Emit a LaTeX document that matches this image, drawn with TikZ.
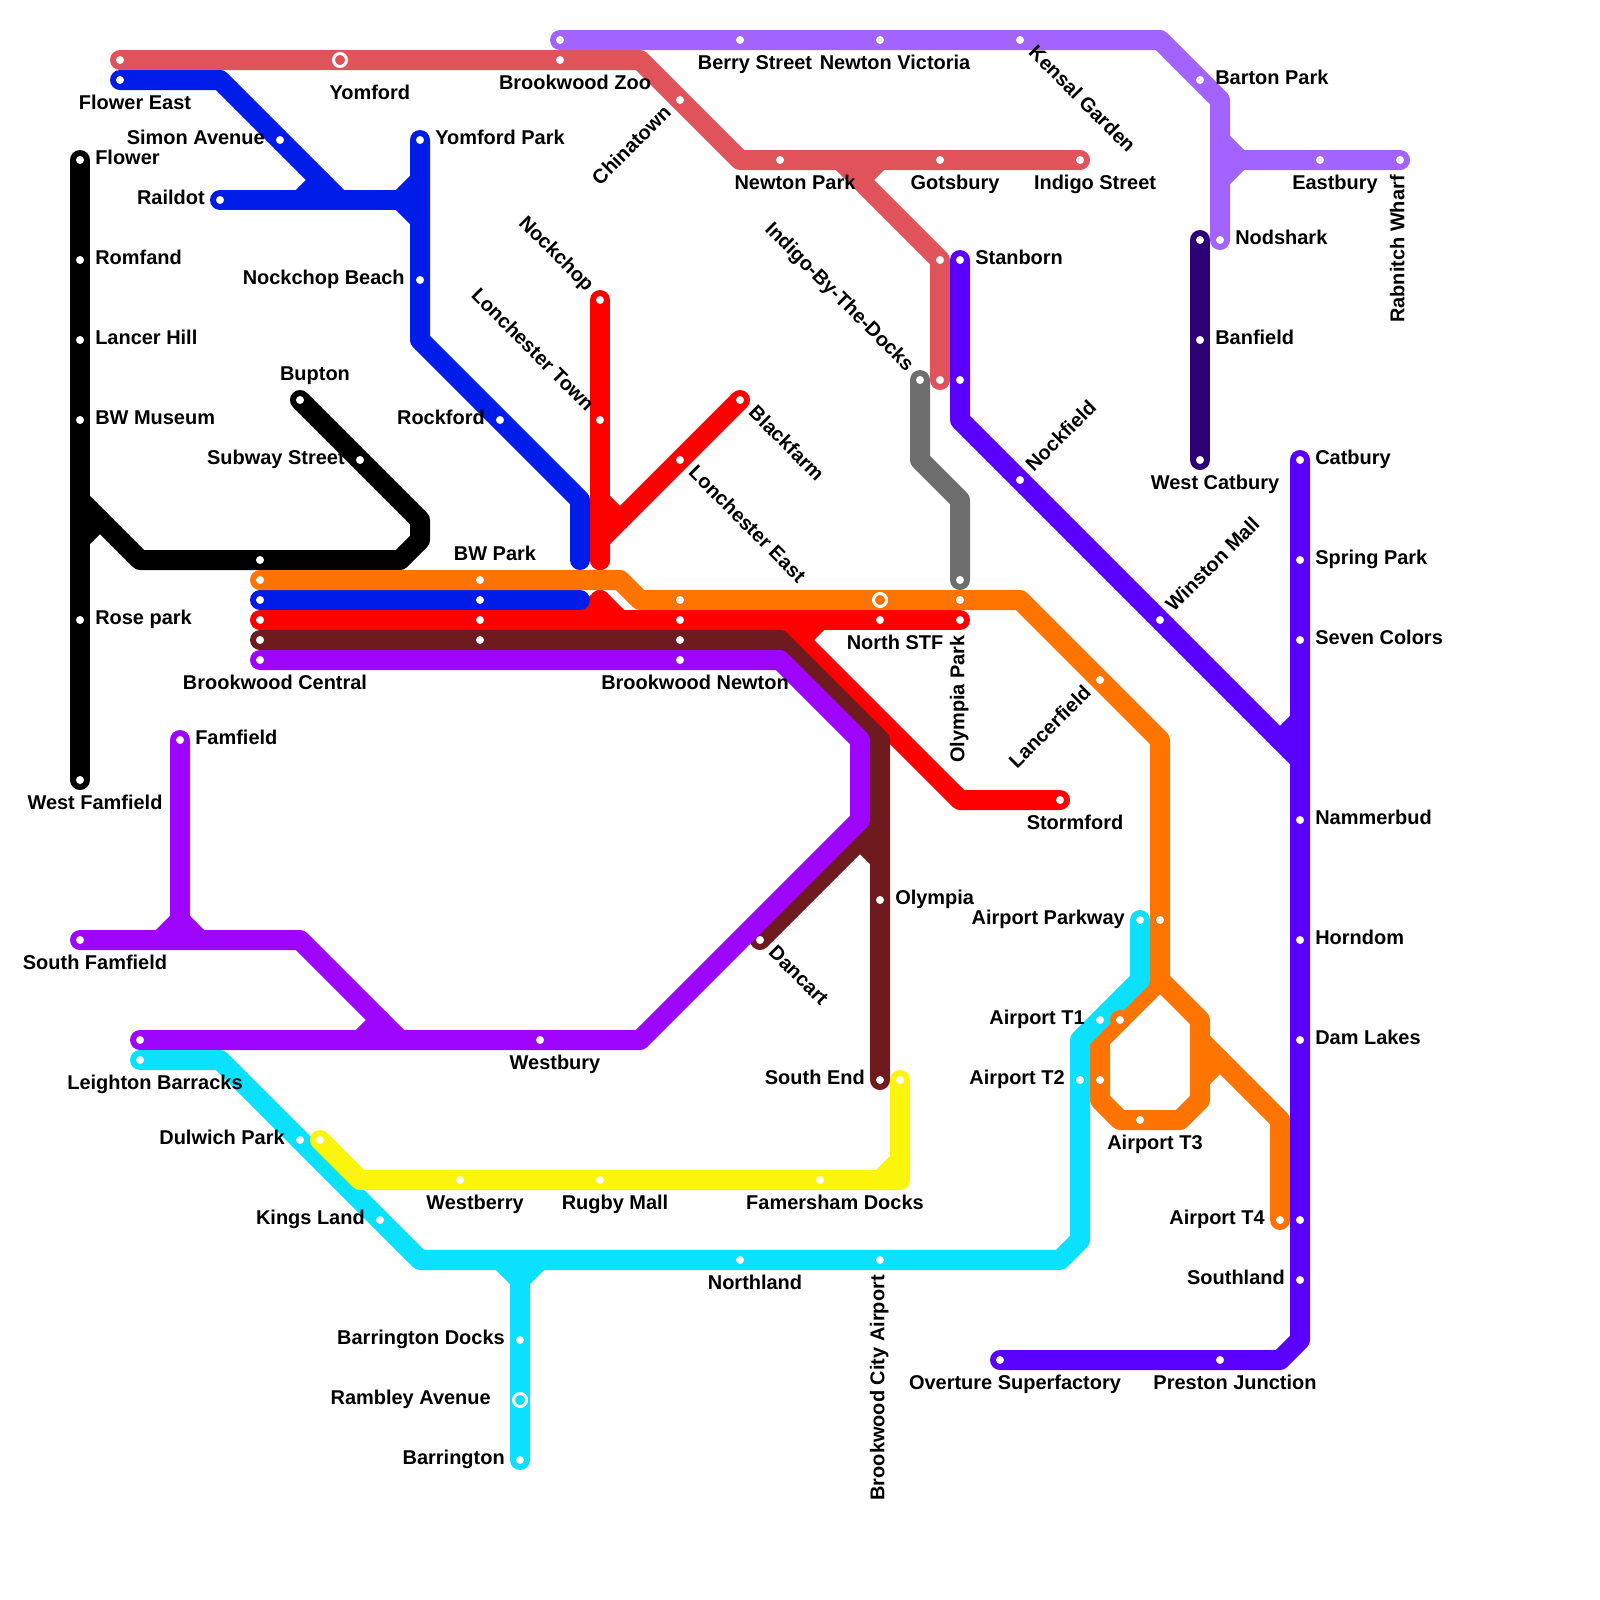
\documentclass[tikz,border=0pt]{standalone}
\usepackage{fontspec}
\setmainfont{Liberation Sans}
\usetikzlibrary{backgrounds}
\definecolor{lnblack}{HTML}{000000}
\definecolor{lnblue}{HTML}{001CE8}
\definecolor{lnred}{HTML}{FF0000}
\definecolor{lnbrown}{HTML}{6E1A1E}
\definecolor{lnpurple}{HTML}{9E05FF}
\definecolor{lnorange}{HTML}{FF7300}
\definecolor{lncyan}{HTML}{0BE0FF}
\definecolor{lnyellow}{HTML}{FBF50C}
\definecolor{lncrimson}{HTML}{E0535B}
\definecolor{lnlilac}{HTML}{A263FF}
\definecolor{lnviolet}{HTML}{5A00FF}
\definecolor{lnindigo}{HTML}{2E0078}
\definecolor{lngrey}{HTML}{6E6E6E}

\begin{document}
\begin{tikzpicture}[
    x=0.5cm, y=-0.5cm,
    stn/.style={circle, fill=white, inner sep=0pt, minimum size=0.2cm},
    ring/.style={circle, draw=white, line width=0.075cm, inner sep=0pt, minimum size=0.325cm},
    mline/.style={line width=0.5cm, line cap=round, line join=round},
    lbl/.style={inner sep=0pt, text=black, font=\fontsize{14.2}{17}\selectfont\bfseries},
    lright/.style={lbl, anchor=base west, xshift=0.375cm, yshift=-0.11cm},
    lleft/.style={lbl, anchor=base east, xshift=-0.375cm, yshift=-0.11cm},
    lbelow/.style={lbl, anchor=base, xshift=0.375cm, yshift=-0.74cm},
    labove/.style={lbl, anchor=base, xshift=0.375cm, yshift=0.485cm}
]
\useasboundingbox (0,0) rectangle (80,80);

% black line
\node[stn] (flower) at (4,8) {}; \node[lright] (flowerT) at (flower) {Flower};
\node[stn] (romfand) at (4,13) {}; \node[lright] (romfandT) at (romfand) {Romfand};
\node[stn] (lancerhill) at (4,17) {}; \node[lright] (lancerhillT) at (lancerhill) {Lancer Hill};
\node[stn] (bwmuseum) at (4,21) {}; \node[lright] (bwmuseumT) at (bwmuseum) {BW Museum};
\node[stn] (rosepark) at (4,31) {}; \node[lright] (roseparkT) at (rosepark) {Rose park};
\node[stn] (westfamfield) at (4,39) {}; \node[lbelow] (westfamfieldT) at (westfamfield) {West Famfield};
\node[stn] (bupton) at (15,20) {}; \node[labove] (buptonT) at (bupton) {Bupton};
\node[stn] (subway) at (18,23) {}; \node[lleft] (subwayT) at (subway) {Subway Street};
\node[stn] (bcK0) at (13,28) {};

% blue line
\node[stn] (flowereast) at (6,4) {}; \node[lbelow] (flowereastT) at (flowereast) {Flower East};
\node[stn] (simon) at (14,7) {}; \node[lleft] (simonT) at (simon) {Simon Avenue};
\node[stn] (raildot) at (11,10) {}; \node[lleft] (raildotT) at (raildot) {Raildot};
\node[stn] (yomfordpark) at (21,7) {}; \node[lright] (yomfordparkT) at (yomfordpark) {Yomford Park};
\node[stn] (nockbeach) at (21,14) {}; \node[lleft] (nockbeachT) at (nockbeach) {Nockchop Beach};
\node[stn] (rockford) at (25,21) {}; \node[lleft] (rockfordT) at (rockford) {Rockford};

% red line
\node[stn] (nockchop) at (30,15) {}; \node[rotate=-45, lleft] (nockchopT) at (nockchop) {Nockchop};
\node[stn] (lontown) at (30,21) {}; \node[rotate=-45, lleft] (lontownT) at (lontown) {Lonchester Town};
\node[stn] (blackfarm) at (37,20) {}; \node[rotate=-45, lright] (blackfarmT) at (blackfarm) {Blackfarm};
\node[stn] (loneast) at (34,23) {}; \node[rotate=-45, lright] (loneastT) at (loneast) {Lonchester East};
\node[stn] (northstf) at (44,31) {}; \node[lbelow] (northstfT) at (northstf) {North STF};
\node[stn] (olympiapark) at (48,31) {}; \node[rotate=90, lleft] (olympiaparkT) at (olympiapark) {Olympia Park};
\node[stn] (stormford) at (53,40) {}; \node[lbelow] (stormfordT) at (stormford) {Stormford};

% trunk rows
\node[stn] (bcO) at (13,29) {};
\node[stn] (bcB) at (13,30) {};
\node[stn] (bcR) at (13,31) {};
\node[stn] (bcK) at (13,32) {};
\node[stn] (bcP) at (13,33) {}; \node[lbelow] (bcPT) at (bcP) {Brookwood Central};
\node[stn] (bwO) at (24,29) {}; \node[labove] (bwOT) at (bwO) {BW Park};
\node[stn] (bwB) at (24,30) {};
\node[stn] (bwR) at (24,31) {};
\node[stn] (bwK) at (24,32) {};
\node[stn] (bnO) at (34,30) {};
\node[stn] (bnR) at (34,31) {};
\node[stn] (bnK) at (34,32) {};
\node[stn] (bnP) at (34,33) {}; \node[lbelow] (bnPT) at (bnP) {Brookwood Newton};

% brown line
\node[stn] (olympia) at (44,45) {}; \node[lright] (olympiaT) at (olympia) {Olympia};
\node[stn] (southend) at (44,54) {}; \node[lleft] (southendT) at (southend) {South End};
\node[stn] (dancart) at (38,47) {}; \node[rotate=-45, lright] (dancartT) at (dancart) {Dancart};

% purple line
\node[stn] (famfield) at (9,37) {}; \node[lright] (famfieldT) at (famfield) {Famfield};
\node[stn] (southfam) at (4,47) {}; \node[lbelow] (southfamT) at (southfam) {South Famfield};
\node[stn] (purpleend) at (7,52) {};
\node[stn] (westbury) at (27,52) {}; \node[lbelow] (westburyT) at (westbury) {Westbury};

% cyan line
\node[stn] (leighton) at (7,53) {}; \node[lbelow] (leightonT) at (leighton) {Leighton Barracks};
\node[stn] (dulwich) at (15,57) {}; \node[lleft] (dulwichT) at (dulwich) {Dulwich Park};
\node[stn] (kingsland) at (19,61) {}; \node[lleft] (kingslandT) at (kingsland) {Kings Land};
\node[stn] (northland) at (37,63) {}; \node[lbelow] (northlandT) at (northland) {Northland};
\node[stn] (cityairport) at (44,63) {}; \node[rotate=90, lleft] (cityairportT) at (cityairport) {Brookwood City Airport};
\node[stn] (bardocks) at (26,67) {}; \node[lleft] (bardocksT) at (bardocks) {Barrington Docks};
\node[ring] (rambley) at (26,70) {}; \node[lleft, xshift=-0.35cm] (rambleyT) at (rambley) {Rambley Avenue};
\node[stn] (barrington) at (26,73) {}; \node[lleft] (barringtonT) at (barrington) {Barrington};
\node[stn] (parkway) at (57,46) {}; \node[lleft] (parkwayT) at (parkway) {Airport Parkway};
\node[stn] (tonecy) at (55,51) {}; \node[lleft] (tonecyT) at (tonecy) {Airport T1};
\node[stn] (ttwocy) at (54,54) {}; \node[lleft] (ttwocyT) at (ttwocy) {Airport T2};

% yellow line
\node[stn] (dulwichY) at (16,57) {};
\node[stn] (westberry) at (23,59) {}; \node[lbelow] (westberryT) at (westberry) {Westberry};
\node[stn] (rugby) at (30,59) {}; \node[lbelow] (rugbyT) at (rugby) {Rugby Mall};
\node[stn] (famersham) at (41,59) {}; \node[lbelow] (famershamT) at (famersham) {Famersham Docks};
\node[stn] (yellowend) at (45,54) {};

% orange line
\node[ring] (northstfO) at (44,30) {};
\node[stn] (olympiaparkO) at (48,30) {};
\node[stn] (lancerfield) at (55,34) {}; \node[rotate=45, lleft] (lancerfieldT) at (lancerfield) {Lancerfield};
\node[stn] (parkwayO) at (58,46) {};
\node[stn] (toneO) at (56,51) {};
\node[stn] (ttwoO) at (55,54) {};
\node[stn] (tthree) at (57,56) {}; \node[lbelow] (tthreeT) at (tthree) {Airport T3};
\node[stn] (tfour) at (64,61) {}; \node[lleft] (tfourT) at (tfour) {Airport T4};

% crimson line
\node[stn] (crimsonend) at (6,3) {};
\node[ring] (yomford) at (17,3) {}; \node[lbelow, xshift=0.37cm, yshift=-0.25cm] (yomfordT) at (yomford) {Yomford};
\node[stn] (zoo) at (28,3) {}; \node[lbelow] (zooT) at (zoo) {Brookwood Zoo};
\node[stn] (chinatown) at (34,5) {}; \node[rotate=45, lleft] (chinatownT) at (chinatown) {Chinatown};
\node[stn] (newtonpark) at (39,8) {}; \node[lbelow] (newtonparkT) at (newtonpark) {Newton Park};
\node[stn] (gotsbury) at (47,8) {}; \node[lbelow] (gotsburyT) at (gotsbury) {Gotsbury};
\node[stn] (indigostreet) at (54,8) {}; \node[lbelow] (indigostreetT) at (indigostreet) {Indigo Street};
\node[stn] (crimsonmid) at (47,13) {};
\node[stn] (crimsonlow) at (47,19) {};

% grey line
\node[stn] (indigodocks) at (46,19) {}; \node[rotate=-45, lleft] (indigodocksT) at (indigodocks) {Indigo-By-The-Docks};
\node[stn] (greyend) at (48,29) {};

% lilac line
\node[stn] (lilacend) at (28,2) {};
\node[stn] (berry) at (37,2) {}; \node[lbelow] (berryT) at (berry) {Berry Street};
\node[stn] (victoria) at (44,2) {}; \node[lbelow] (victoriaT) at (victoria) {Newton Victoria};
\node[stn] (kensal) at (51,2) {}; \node[rotate=-45, lright] (kensalT) at (kensal) {Kensal Garden};
\node[stn] (barton) at (60,4) {}; \node[lright] (bartonT) at (barton) {Barton Park};
\node[stn] (nodshark) at (61,12) {}; \node[lright] (nodsharkT) at (nodshark) {Nodshark};
\node[stn] (eastbury) at (66,8) {}; \node[lbelow] (eastburyT) at (eastbury) {Eastbury};
\node[stn] (rabnitch) at (70,8) {}; \node[rotate=90, lleft] (rabnitchT) at (rabnitch) {Rabnitch Wharf};

% indigo line
\node[stn] (nodsharkI) at (60,12) {};
\node[stn] (banfield) at (60,17) {}; \node[lright] (banfieldT) at (banfield) {Banfield};
\node[stn] (westcatbury) at (60,23) {}; \node[lbelow] (westcatburyT) at (westcatbury) {West Catbury};

% violet line
\node[stn] (stanborn) at (48,13) {}; \node[lright] (stanbornT) at (stanborn) {Stanborn};
\node[stn] (violetlow) at (48,19) {};
\node[stn] (nockfield) at (51,24) {}; \node[rotate=45, lright] (nockfieldT) at (nockfield) {Nockfield};
\node[stn] (winston) at (58,31) {}; \node[rotate=45, lright] (winstonT) at (winston) {Winston Mall};
\node[stn] (catbury) at (65,23) {}; \node[lright] (catburyT) at (catbury) {Catbury};
\node[stn] (springpark) at (65,28) {}; \node[lright] (springparkT) at (springpark) {Spring Park};
\node[stn] (sevencolors) at (65,32) {}; \node[lright] (sevencolorsT) at (sevencolors) {Seven Colors};
\node[stn] (nammerbud) at (65,41) {}; \node[lright] (nammerbudT) at (nammerbud) {Nammerbud};
\node[stn] (horndom) at (65,47) {}; \node[lright] (horndomT) at (horndom) {Horndom};
\node[stn] (damlakes) at (65,52) {}; \node[lright] (damlakesT) at (damlakes) {Dam Lakes};
\node[stn] (tfourV) at (65,61) {};
\node[stn] (southland) at (65,64) {}; \node[lleft] (southlandT) at (southland) {Southland};
\node[stn] (preston) at (61,68) {}; \node[lbelow] (prestonT) at (preston) {Preston Junction};
\node[stn] (overture) at (50,68) {}; \node[lbelow] (overtureT) at (overture) {Overture Superfactory};

% bends
\coordinate (kb1) at (4,25); \coordinate (kb2) at (7,28); \coordinate (kb3) at (20,28); \coordinate (kb4) at (21,27); \coordinate (kb5) at (21,26); \coordinate (kb6) at (4,27);
\coordinate (bu1) at (11,4); \coordinate (bu2) at (17,10); \coordinate (bu3) at (20,10); \coordinate (bu4) at (21,17); \coordinate (bu5) at (29,25); \coordinate (bu6) at (29,28); \coordinate (bu7) at (29,30); \coordinate (bu8) at (15,10); \coordinate (bu9) at (21,10);
\coordinate (rd1) at (39,31); \coordinate (rd2) at (40,32); \coordinate (rd3) at (48,40); \coordinate (rd4) at (41,31); \coordinate (rd5) at (30,30); \coordinate (rd6) at (30,28); \coordinate (rd7) at (30,27); \coordinate (rd8) at (30,25);
\coordinate (br1) at (39,32); \coordinate (br2) at (44,37); \coordinate (br3) at (44,41); \coordinate (br4) at (43,42);
\coordinate (pu1) at (39,33); \coordinate (pu2) at (43,37); \coordinate (pu3) at (43,41); \coordinate (pu4) at (32,52); \coordinate (pu5) at (9,46); \coordinate (pu6) at (15,47); \coordinate (pu7) at (20,52); \coordinate (pu8) at (18,52);
\coordinate (cy1) at (11,53); \coordinate (cy2) at (21,63); \coordinate (cy3) at (53,63); \coordinate (cy4) at (54,62); \coordinate (cy5) at (54,52); \coordinate (cy6) at (57,49); \coordinate (cy7) at (26,64);
\coordinate (ye1) at (18,59); \coordinate (ye2) at (45,59); \coordinate (ye3) at (44,59);
\coordinate (or1) at (31,29); \coordinate (or2) at (32,30); \coordinate (or3) at (51,30); \coordinate (or4) at (58,37); \coordinate (or5) at (58,49); \coordinate (or6) at (55,52); \coordinate (or7) at (55,55); \coordinate (or8) at (56,56); \coordinate (or9) at (59,56); \coordinate (or10) at (60,55); \coordinate (or11) at (60,51); \coordinate (or12) at (60,52); \coordinate (or13) at (64,56); \coordinate (or14) at (60,54);
\coordinate (cr1) at (32,3); \coordinate (cr2) at (37,8); \coordinate (cr3) at (42,8); \coordinate (cr4) at (43,9);
\coordinate (gr1) at (46,23); \coordinate (gr2) at (48,25);
\coordinate (li1) at (58,2); \coordinate (li2) at (61,5); \coordinate (li3) at (62,8);
\coordinate (vi1) at (48,21); \coordinate (vi2) at (65,38); \coordinate (vi3) at (65,67); \coordinate (vi4) at (64,68); \coordinate (vi5) at (64,37);

\begin{scope}[on background layer]
% Lines, in stacking order
\draw[mline, lncrimson] (crimsonend.center) -- (cr1) -- (cr2) -- (indigostreet.center);
\draw[mline, lncrimson] (cr3) -- (crimsonmid.center) -- (crimsonlow.center);
\draw[mline, lncrimson] (cr4) -- ++(1,-1);
\draw[mline, lnlilac] (lilacend.center) -- (li1) -- (li2) -- (nodshark.center);
\draw[mline, lnlilac] (rabnitch.center) -- (li3) -- ++(-1,-1);
\draw[mline, lnlilac] (li3) -- ++(-1,1);
\draw[mline, lnindigo] (nodsharkI.center) -- (westcatbury.center);
\draw[mline, lnblack] (flower.center) -- (westfamfield.center);
\draw[mline, lnblack] (kb1) -- (kb2) -- (kb3) -- (kb4) -- (kb5) -- (bupton.center);
\draw[mline, lnblack] (kb6) -- ++(1,-1);
\draw[mline, lngrey] (indigodocks.center) -- (gr1) -- (gr2) -- (greyend.center);
\draw[mline, lnred] (rd5) -- ++(1,1);
\draw[mline, lnred] (rd5) -- ++(-1,1);
\draw[mline, lnblue] (flowereast.center) -- (bu1) -- (bu2);
\draw[mline, lnblue] (raildot.center) -- (bu9);
\draw[mline, lnblue] (yomfordpark.center) -- (bu4) -- (bu5) -- (bu6);
\draw[mline, lnblue] (bu8) -- ++(1,-1);
\draw[mline, lnblue] (bu3) -- ++(1,-1);
\draw[mline, lnblue] (bu3) -- ++(1,1);
\draw[mline, lnblue] (bcB.center) -- (bu7);
\draw[mline, lnred] (bcR.center) -- (rd1) -- (rd2) -- (rd3) -- (stormford.center);
\draw[mline, lnred] (olympiapark.center) -- (rd1);
\draw[mline, lnred] (rd4) -- (rd2);
\draw[mline, lnred] (nockchop.center) -- (rd6);
\draw[mline, lnred] (blackfarm.center) -- (rd7) -- (rd6);
\draw[mline, lnred] (rd8) -- ++(1,1);
\draw[mline, lnorange] (bcO.center) -- (or1) -- (or2) -- (or3) -- (or4) -- (or5) -- (or6) -- (or7) -- (or8) -- (or9) -- (or10) -- (or11) -- (or5);
\draw[mline, lnorange] (or12) -- (or13) -- (tfour.center);
\draw[mline, lnorange] (or14) -- ++(1,-1);
\draw[mline, lnbrown] (bcK.center) -- (br1) -- (br2) -- (southend.center);
\draw[mline, lnbrown] (dancart.center) -- (br3);
\draw[mline, lnbrown] (br4) -- ++(1,1);
\draw[mline, lnpurple] (bcP.center) -- (pu1) -- (pu2) -- (pu3) -- (pu4) -- (purpleend.center);
\draw[mline, lnpurple] (famfield.center) -- (pu5) -- ++(-1,1);
\draw[mline, lnpurple] (pu5) -- ++(1,1);
\draw[mline, lnpurple] (southfam.center) -- (pu6) -- (pu7);
\draw[mline, lnpurple] (pu8) -- ++(1,-1);
\draw[mline, lncyan] (leighton.center) -- (cy1) -- (cy2) -- (cy3) -- (cy4) -- (cy5) -- (cy6) -- (parkway.center);
\draw[mline, lncyan] (barrington.center) -- (cy7) -- ++(-1,-1);
\draw[mline, lncyan] (cy7) -- ++(1,-1);
\fill[lnorange] (toneO.center) circle (0.5);
\draw[mline, lnyellow] (dulwichY.center) -- (ye1) -- (ye2) -- (yellowend.center);
\draw[mline, lnyellow] (ye3) -- ++(1,-1);
\draw[mline, lnviolet] (stanborn.center) -- (vi1) -- (vi2);
\draw[mline, lnviolet] (catbury.center) -- (vi3) -- (vi4) -- (overture.center);
\draw[mline, lnviolet] (vi5) -- ++(1,-1);
\end{scope}

\end{tikzpicture}
\end{document}
